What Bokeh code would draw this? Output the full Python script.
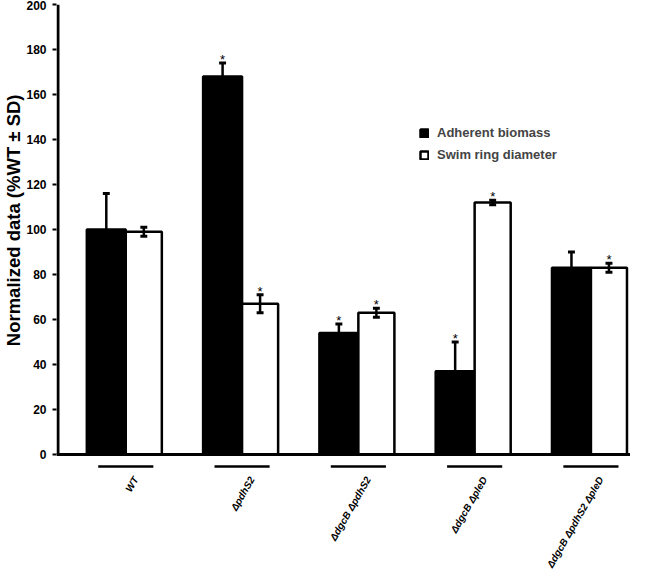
import math
from bokeh.plotting import figure
from bokeh.models import Range1d, FixedTicker, Title, Legend, LegendItem, ColumnDataSource
from bokeh.core.properties import value
from bokeh.embed import file_html
from bokeh.resources import INLINE

# ---- data ----
strains = ["WT", "\u0394pdhS2", "\u0394dgcB \u0394pdhS2", "\u0394dgcB \u0394pleD", "\u0394dgcB \u0394pdhS2 \u0394pleD"]
biomass = [100, 168, 54, 37, 83]
biomass_sd = [16, 6, 4, 13, 7]
biomass_sig = [False, True, True, True, False]
swim = [99, 67, 63, 112, 83]
swim_sd = [2, 4, 2, 1, 2]
swim_sig = [False, True, True, True, True]
y_ticks = [0, 20, 40, 60, 80, 100, 120, 140, 160, 180, 200]
y_title = "Normalized data (%WT \u00b1 SD)"
legend_labels = ["Adherent biomass", "Swim ring diameter"]

# ---- layout constants ----
W, H = 630, 569
FL = 51          # frame left (px)
FT = 4           # frame top (px)
PXU = 117.3      # px per group
YPX = 2.25       # px per y unit
Y0 = 454         # figure px of y = 0
axis_x = -0.583
x_start = axis_x - 1.5 / PXU
x_end = x_start + (W - FL) / PXU
y_end = 200
y_start = -(H - Y0) / YPX

FONT = "Liberation Sans"

p = figure(width=W, height=H, x_range=Range1d(x_start, x_end), y_range=Range1d(y_start, y_end),
           output_backend="svg", toolbar_location=None, x_axis_location=None,
           min_border_left=FL, min_border_right=0, min_border_top=FT, min_border_bottom=0,
           outline_line_color=None, background_fill_color="white", border_fill_color="white")
p.xgrid.visible = False
p.ygrid.visible = False

ya = p.yaxis[0]
ya.ticker = FixedTicker(ticks=y_ticks)
ya.axis_line_color = None
ya.major_tick_out = 4
ya.major_tick_in = 0
ya.major_tick_line_width = 2
ya.major_tick_line_color = "black"
ya.minor_tick_line_color = None
ya.major_label_standoff = 6
ya.major_label_text_font = FONT
ya.major_label_text_font_style = "bold"
ya.major_label_text_font_size = "12px"
ya.major_label_text_color = "black"
ya.axis_label = None

p.add_layout(Title(text=y_title, align="right", offset=90, standoff=0,
                   text_font=FONT, text_font_style="bold", text_font_size="18.5px",
                   text_color="black"), "left")

n = len(strains)
xs = list(range(n))
bw_black = 0.335
bw_white = 0.31

src_b = ColumnDataSource(dict(x=[i - bw_black / 2 for i in xs], top=biomass))
src_w = ColumnDataSource(dict(x=[i + bw_white / 2 for i in xs], top=swim))
rb = p.vbar(x="x", top="top", bottom=0, width=bw_black, source=src_b,
            fill_color="black", line_color="black", line_width=2.5)
rw = p.vbar(x="x", top="top", bottom=0, width=bw_white, source=src_w,
            fill_color="white", line_color="black", line_width=2.5)

# error bars
cap = 7 / PXU
for cx, vals, sds in ((src_b.data["x"], biomass, biomass_sd), (src_w.data["x"], swim, swim_sd)):
    lo = [v - s for v, s in zip(vals, sds)]
    hi = [v + s for v, s in zip(vals, sds)]
    p.segment(x0=cx, y0=lo, x1=cx, y1=hi, line_color="black", line_width=2.5)
    p.segment(x0=[c - cap / 2 for c in cx], y0=hi, x1=[c + cap / 2 for c in cx], y1=hi,
              line_color="black", line_width=3)
    p.segment(x0=[c - cap / 2 for c in cx], y0=lo, x1=[c + cap / 2 for c in cx], y1=lo,
              line_color="black", line_width=3)

# significance stars
star_off = 3.5 / YPX
for cx, vals, sds, sig in ((src_b.data["x"], biomass, biomass_sd, biomass_sig),
                           (src_w.data["x"], swim, swim_sd, swim_sig)):
    sx = [c for c, s in zip(cx, sig) if s]
    sy = [v + d + star_off for v, d, s in zip(vals, sds, sig) if s]
    p.text(x=sx, y=sy, text=["*"] * len(sx), text_align="center", text_baseline="alphabetic",
           text_font=value(FONT), text_font_size="13px", text_color="black")

# axis lines
p.segment(x0=[axis_x], y0=[0], x1=[axis_x], y1=[y_end], line_color="black", line_width=3)
p.segment(x0=[axis_x - 1.5 / PXU], y0=[0], x1=[x_end], y1=[0], line_color="black", line_width=3)

# group underlines and labels
ul_y = -12 / YPX
p.segment(x0=[i - 0.237 for i in xs], y0=[ul_y] * n, x1=[i + 0.237 for i in xs], y1=[ul_y] * n,
          line_color="black", line_width=2.5)
lab_y = -23 / YPX
p.text(x=[i + 10 / PXU for i in xs], y=[lab_y] * n, text=strains, angle=math.pi / 3,
       text_align="right", text_baseline="middle", text_font=value(FONT),
       text_font_style="bold italic", text_font_size="10px", text_color="black")

legend = Legend(items=[LegendItem(label=legend_labels[0], renderers=[rb]),
                       LegendItem(label=legend_labels[1], renderers=[rw])],
                location=(363, 407), glyph_width=10, glyph_height=10, label_standoff=8,
                spacing=7, padding=0, margin=0, border_line_color=None, background_fill_alpha=0,
                label_text_font=FONT, label_text_font_style="bold", label_text_font_size="13px",
                label_height=10)
p.add_layout(legend)

open("out.html", "w").write(file_html(p, INLINE))
